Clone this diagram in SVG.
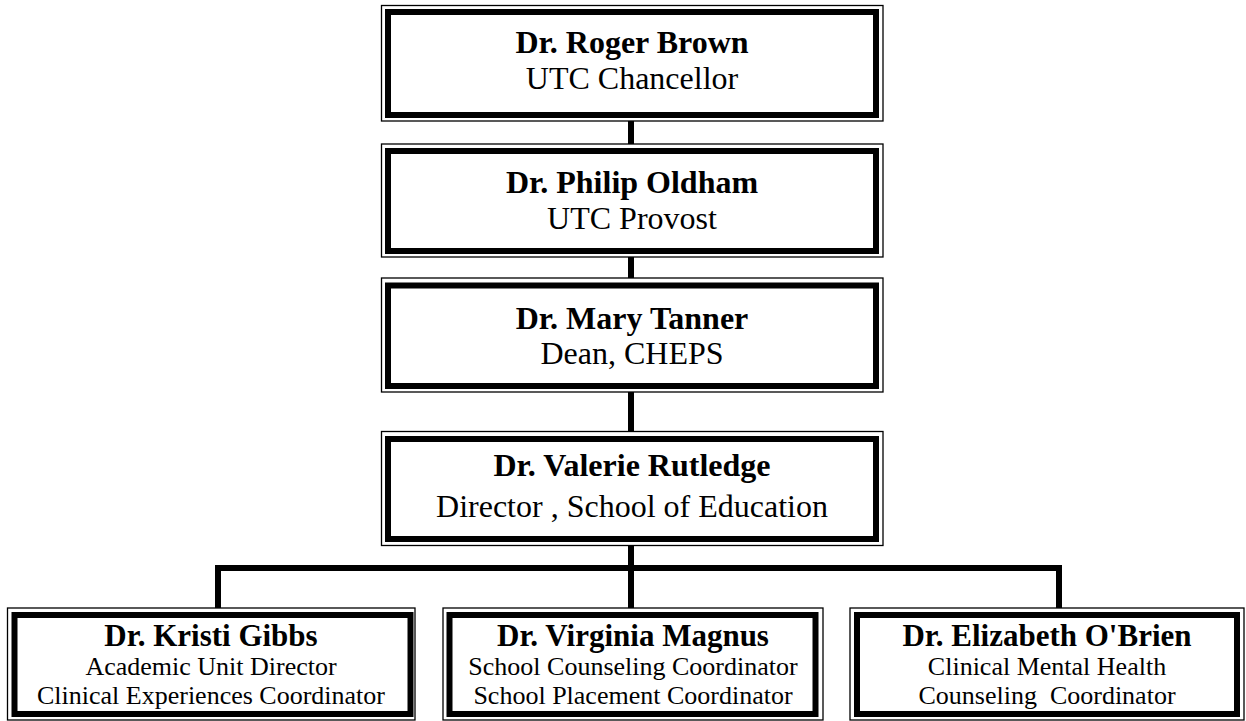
<svg xmlns="http://www.w3.org/2000/svg" width="1246" height="721" viewBox="0 0 1246 721">
<style>
.thin{fill:none;stroke:#000;stroke-width:1.3}
.thick{fill:#fff;stroke:#000;stroke-width:6}
.conn{fill:none;stroke:#000;stroke-width:6;stroke-linejoin:miter}
text{font-family:"Liberation Serif","Times New Roman",serif;fill:#000;text-anchor:middle}
.nm{font-weight:bold;font-size:32px}
.tt{font-size:32px}
.cn{font-weight:bold;font-size:31px}
.ct{font-size:26px}
</style>
<rect width="1246" height="721" fill="#fff"/>
<g id="connectors">
<path class="conn" d="M631 121V144M631 257V278M631 392V431M631 545V608M218 608V568H1059V608"/>
</g>
<g id="brown">
<rect class="thin" x="381.5" y="5.5" width="501.5" height="115.5"/>
<rect class="thick" x="388" y="12" width="488" height="103"/>
<text class="nm" x="632" y="53">Dr. Roger Brown</text>
<text class="tt" x="632" y="89">UTC Chancellor</text>
</g>
<g id="oldham">
<rect class="thin" x="381.5" y="144" width="501.5" height="113"/>
<rect class="thick" x="388" y="151" width="488" height="100"/>
<text class="nm" x="632" y="193">Dr. Philip Oldham</text>
<text class="tt" x="632" y="229">UTC Provost</text>
</g>
<g id="tanner">
<rect class="thin" x="381.5" y="278" width="501.5" height="114"/>
<rect class="thick" x="388" y="285.5" width="488" height="100.5"/>
<text class="nm" x="632" y="329">Dr. Mary Tanner</text>
<text class="tt" x="632" y="364">Dean, CHEPS</text>
</g>
<g id="rutledge">
<rect class="thin" x="381.5" y="431.5" width="501.5" height="114"/>
<rect class="thick" x="388" y="439" width="488" height="100"/>
<text class="nm" x="632" y="476">Dr. Valerie Rutledge</text>
<text class="tt" x="632" y="517">Director , School of Education</text>
</g>
<g id="gibbs">
<rect class="thin" x="7.5" y="608" width="407.5" height="112"/>
<rect class="thick" x="14.5" y="615" width="396" height="99"/>
<text class="cn" x="211" y="646">Dr. Kristi Gibbs</text>
<text class="ct" x="211" y="675">Academic Unit Director</text>
<text class="ct" x="211" y="704">Clinical Experiences Coordinator</text>
</g>
<g id="magnus">
<rect class="thin" x="443" y="608" width="380" height="112"/>
<rect class="thick" x="449.5" y="615" width="366" height="99"/>
<text class="cn" x="633" y="646">Dr. Virginia Magnus</text>
<text class="ct" x="633" y="675">School Counseling Coordinator</text>
<text class="ct" x="633" y="704">School Placement Coordinator</text>
</g>
<g id="obrien">
<rect class="thin" x="850" y="608" width="394" height="112"/>
<rect class="thick" x="857" y="615" width="380" height="99"/>
<text class="cn" x="1047" y="646">Dr. Elizabeth O'Brien</text>
<text class="ct" x="1047" y="675">Clinical Mental Health</text>
<text class="ct" x="1047" y="704" xml:space="preserve">Counseling  Coordinator</text>
</g>
</svg>
